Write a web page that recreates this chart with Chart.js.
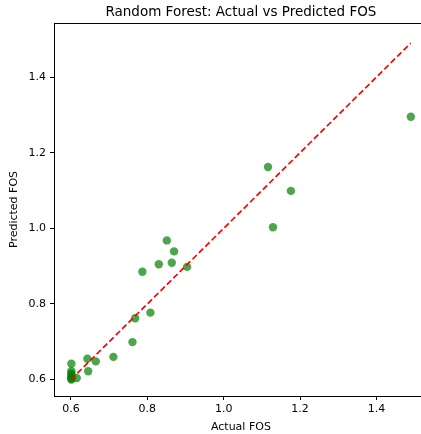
<!DOCTYPE html>
<html>
<head>
<meta charset="utf-8">
<script src="https://cdn.jsdelivr.net/npm/chart.js@4.4.0/dist/chart.umd.min.js"></script>
<style>
html,body{margin:0;padding:0;background:#fff;overflow:hidden;width:421px;height:434px;}
#wrap{width:432px;height:434px;position:absolute;left:0;top:0;}
canvas{display:block;}
</style>
</head>
<body>
<div id="wrap"><canvas id="c" width="432" height="434" style="width:432px;height:434px"></canvas></div>
<script>
const actual = [1.490, 1.116, 1.176, 1.129, 0.851, 0.870, 0.830, 0.864, 0.904, 0.787,
                0.808, 0.768, 0.761, 0.711, 0.643, 0.665, 0.645, 0.615, 0.601,
                0.601, 0.601, 0.601, 0.601, 0.601, 0.601];
const predicted = [1.295, 1.162, 1.099, 1.003, 0.968, 0.939, 0.905, 0.909, 0.898, 0.885,
                   0.777, 0.762, 0.699, 0.660, 0.655, 0.648, 0.622, 0.604, 0.642,
                   0.622, 0.616, 0.611, 0.606, 0.602, 0.600];
const idealLine = [0.600, 1.490];
const xTicks = [0.6, 0.8, 1.0, 1.2, 1.4];
const yTicks = [0.6, 0.8, 1.0, 1.2, 1.4];
const xRange = [0.5555, 1.5345];
const yRange = [0.5565, 1.5430];

const points = actual.map((a, i) => ({x: a, y: predicted[i]}));
const linePts = idealLine.map(v => ({x: v, y: v}));

const frame = {
  id: 'frame',
  afterDraw(chart) {
    const {ctx, chartArea: a} = chart;
    ctx.save();
    ctx.strokeStyle = '#000';
    ctx.lineWidth = 1;
    ctx.beginPath();
    ctx.moveTo(a.left, a.top + 0.5);
    ctx.lineTo(a.right, a.top + 0.5);
    ctx.moveTo(a.right - 0.5, a.top);
    ctx.lineTo(a.right - 0.5, a.bottom);
    ctx.stroke();
    ctx.restore();
  }
};

const font = {family: 'DejaVu Sans', size: 11};

new Chart(document.getElementById('c'), {
  type: 'scatter',
  data: {
    datasets: [
      {
        type: 'scatter',
        data: points,
        backgroundColor: 'rgba(0,128,0,0.7)',
        borderWidth: 0,
        pointRadius: 4.2,
        pointHoverRadius: 4.2,
        order: 2
      },
      {
        type: 'line',
        data: linePts,
        borderColor: '#ff0000',
        borderWidth: 1.7,
        borderDash: [6, 3],
        pointRadius: 0,
        fill: false,
        order: 1
      }
    ]
  },
  options: {
    responsive: false,
    animation: false,
    layout: {padding: {top: 0, right: 4, bottom: 0, left: 0}},
    plugins: {
      legend: {display: false},
      tooltip: {enabled: false},
      title: {
        display: true,
        text: 'Random Forest: Actual vs Predicted FOS',
        fullSize: false,
        color: '#000',
        font: {family: 'DejaVu Sans', size: 13.5, weight: 'normal'},
        padding: {top: 4, bottom: 2.8}
      }
    },
    scales: {
      x: {
        type: 'linear',
        min: xRange[0], max: xRange[1],
        afterBuildTicks: s => { s.ticks = xTicks.map(v => ({value: v})); },
        afterFit: s => { s.height = 38; },
        ticks: {color: '#000', font, padding: 3, maxRotation: 0, callback: v => v.toFixed(1)},
        grid: {drawOnChartArea: false, drawTicks: true, tickLength: 4, color: '#000'},
        border: {color: '#000', width: 1},
        title: {display: true, text: 'Actual FOS', color: '#000', font, padding: {top: 2, bottom: 0}}
      },
      y: {
        type: 'linear',
        min: yRange[0], max: yRange[1],
        afterBuildTicks: s => { s.ticks = yTicks.map(v => ({value: v})); },
        afterFit: s => { s.width = 54; },
        ticks: {color: '#000', font, padding: 4, callback: v => v.toFixed(1)},
        grid: {drawOnChartArea: false, drawTicks: true, tickLength: 4, color: '#000'},
        border: {color: '#000', width: 1},
        title: {display: true, text: 'Predicted FOS', color: '#000', font, padding: {top: 8, bottom: 0}}
      }
    }
  },
  plugins: [frame]
});
</script>
</body>
</html>
